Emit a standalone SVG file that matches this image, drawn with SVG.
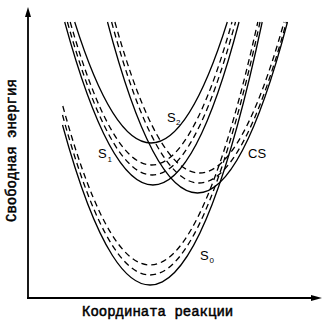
<svg xmlns="http://www.w3.org/2000/svg" width="328" height="330" viewBox="0 0 328 330">
<style>
.ax{stroke:#000;stroke-width:1.8;fill:none}
.sol{stroke:#000;stroke-width:1.3;fill:none}
.das{stroke:#000;stroke-width:1.3;fill:none;stroke-dasharray:6 4}
.lab{font-family:"Liberation Sans",Arial,sans-serif;font-size:13px;fill:#000}
.sub{font-family:"Liberation Sans",Arial,sans-serif;font-size:8px;fill:#000}
.axl{font-family:"Liberation Mono","Courier New",monospace;font-size:14px;fill:#000;stroke:#000;stroke-width:0.5}
</style>
<rect width="328" height="330" fill="#fff"/>
<g id="axes">
<line class="ax" x1="28" y1="298" x2="28" y2="15"/>
<polygon points="28,7 25,17 31,17" fill="#000"/>
<line class="ax" x1="27" y1="298" x2="313" y2="298"/>
<polygon points="322,298 311,295 311,301" fill="#000"/>
</g>
<g id="connectors">
<g id="S0-curves">
<path class="sol" d="M62.5,125 Q162.35,490.2 262.2,22"/>
<path class="das" d="M62.5,115 Q161.25,476.2 260,22"/>
<path class="das" d="M62.8,106 Q160.3,461.5 257.8,22"/>
</g>
<g id="S1-curves">
<path class="sol" d="M64.7,22 Q154,348 239,22"/>
<path class="das" d="M67.4,22 Q153,328 235.5,22"/>
<path class="das" d="M70.2,22 Q152,308 232,22"/>
</g>
<g id="S2-curves">
<path class="sol" d="M74.7,22 Q151,264 227.3,22"/>
</g>
<g id="CS-curves">
<path class="sol" d="M107.5,22 Q197.5,364 287.5,22"/>
<path class="das" d="M111.6,22 Q199,344 286.4,22"/>
<path class="das" d="M114.9,22 Q199.5,324 284.1,22"/>
</g>
</g>
<g id="S0"><text class="lab" x="200" y="260">S</text><text class="sub" x="209.5" y="263">0</text></g>
<g id="S1"><text class="lab" x="98" y="158">S</text><text class="sub" x="107.5" y="162">1</text></g>
<g id="S2"><text class="lab" x="167" y="122">S</text><text class="sub" x="176" y="125">2</text></g>
<g id="CS"><text class="lab" x="248" y="158">CS</text></g>
<g id="labels">
<text class="axl" x="82" y="316">Координата реакции</text>
<text class="axl" transform="translate(16,222) rotate(-90)">Свободная энергия</text>
</g>
</svg>
